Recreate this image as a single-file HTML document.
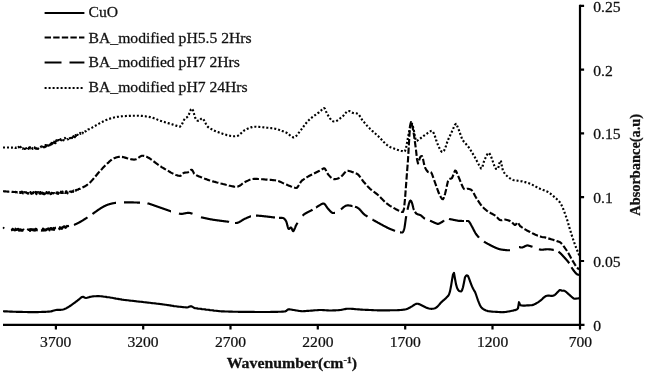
<!DOCTYPE html>
<html><head><meta charset="utf-8"><title>FTIR spectra</title>
<style>
html,body{margin:0;padding:0;background:#fff;}
svg{display:block;filter:blur(0.35px)}
text{font-family:"Liberation Serif",serif;fill:#111;stroke:#111;stroke-width:0.25px;}
.t{font-size:14.5px}
.b{font-size:14px;font-weight:bold}
.c{fill:none;stroke:#000;stroke-width:2.15;stroke-linejoin:round}
</style></head><body>
<svg width="645" height="373" viewBox="0 0 645 373">
<rect width="645" height="373" fill="#fff"/>
<path class="c" d="M3.0,311.2 L4.0,311.3 L5.0,311.3 L6.0,311.4 L7.0,311.4 L8.0,311.5 L9.0,311.5 L10.0,311.6 L11.0,311.6 L12.0,311.6 L13.0,311.7 L14.0,311.7 L15.0,311.7 L16.0,311.8 L17.0,311.8 L18.0,311.8 L19.0,311.9 L20.0,311.9 L21.0,311.9 L22.0,311.9 L23.0,312.0 L24.0,312.0 L25.0,312.0 L26.0,312.0 L27.0,312.0 L28.0,312.1 L29.0,312.1 L30.0,312.1 L31.0,312.1 L32.0,312.1 L33.0,312.1 L34.0,312.1 L35.0,312.1 L36.0,312.1 L37.0,312.1 L38.0,312.1 L39.0,312.0 L40.0,312.0 L41.0,312.0 L42.0,311.9 L43.0,311.9 L44.0,311.9 L45.0,311.8 L46.0,311.8 L47.0,311.7 L48.0,311.6 L49.0,311.6 L50.0,311.5 L51.0,311.4 L52.0,311.1 L53.0,310.8 L54.0,310.5 L55.0,310.2 L56.0,310.0 L57.0,309.9 L58.0,309.8 L59.0,309.8 L60.0,309.8 L61.0,309.8 L62.0,309.7 L63.0,309.5 L64.0,309.2 L65.0,308.8 L66.0,308.4 L67.0,307.8 L68.0,307.3 L69.0,306.7 L70.0,306.0 L71.0,305.3 L72.0,304.6 L73.0,303.9 L74.0,303.2 L75.0,302.5 L76.0,301.7 L77.0,301.0 L78.0,300.2 L79.0,299.4 L80.0,298.5 L81.0,297.7 L82.0,297.0 L83.0,296.8 L84.0,297.3 L85.0,297.8 L86.0,298.0 L87.0,297.8 L88.0,297.5 L89.0,297.2 L90.0,296.9 L91.0,296.7 L92.0,296.5 L93.0,296.4 L94.0,296.3 L95.0,296.2 L96.0,296.2 L97.0,296.1 L98.0,296.1 L99.0,296.1 L100.0,296.2 L101.0,296.3 L102.0,296.4 L103.0,296.5 L104.0,296.7 L105.0,296.8 L106.0,296.9 L107.0,297.1 L108.0,297.2 L109.0,297.3 L110.0,297.5 L111.0,297.7 L112.0,297.8 L113.0,298.0 L114.0,298.2 L115.0,298.4 L116.0,298.6 L117.0,298.7 L118.0,298.9 L119.0,299.1 L120.0,299.3 L121.0,299.4 L122.0,299.6 L123.0,299.7 L124.0,299.9 L125.0,300.0 L126.0,300.1 L127.0,300.2 L128.0,300.3 L129.0,300.5 L130.0,300.6 L131.0,300.7 L132.0,300.8 L133.0,300.9 L134.0,301.0 L135.0,301.1 L136.0,301.2 L137.0,301.4 L138.0,301.5 L139.0,301.6 L140.0,301.7 L141.0,301.8 L142.0,301.9 L143.0,302.0 L144.0,302.2 L145.0,302.3 L146.0,302.4 L147.0,302.5 L148.0,302.6 L149.0,302.7 L150.0,302.8 L151.0,303.0 L152.0,303.1 L153.0,303.2 L154.0,303.3 L155.0,303.4 L156.0,303.5 L157.0,303.7 L158.0,303.8 L159.0,303.9 L160.0,304.0 L161.0,304.1 L162.0,304.2 L163.0,304.4 L164.0,304.5 L165.0,304.7 L166.0,304.8 L167.0,305.0 L168.0,305.1 L169.0,305.3 L170.0,305.4 L171.0,305.6 L172.0,305.8 L173.0,305.9 L174.0,306.1 L175.0,306.2 L176.0,306.3 L177.0,306.5 L178.0,306.6 L179.0,306.7 L180.0,306.8 L181.0,306.9 L182.0,307.0 L183.0,307.1 L184.0,307.2 L185.0,307.3 L186.0,307.4 L187.0,307.5 L188.0,307.3 L189.0,306.8 L190.0,306.4 L191.0,306.2 L192.0,306.6 L193.0,307.2 L194.0,307.8 L195.0,308.2 L196.0,308.3 L197.0,308.4 L198.0,308.6 L199.0,308.7 L200.0,308.8 L201.0,308.9 L202.0,309.1 L203.0,309.2 L204.0,309.3 L205.0,309.4 L206.0,309.6 L207.0,309.7 L208.0,309.8 L209.0,309.9 L210.0,310.1 L211.0,310.2 L212.0,310.3 L213.0,310.4 L214.0,310.6 L215.0,310.7 L216.0,310.8 L217.0,310.9 L218.0,311.0 L219.0,311.1 L220.0,311.2 L221.0,311.3 L222.0,311.3 L223.0,311.4 L224.0,311.4 L225.0,311.5 L226.0,311.5 L227.0,311.5 L228.0,311.5 L229.0,311.6 L230.0,311.6 L231.0,311.6 L232.0,311.6 L233.0,311.7 L234.0,311.7 L235.0,311.7 L236.0,311.7 L237.0,311.7 L238.0,311.8 L239.0,311.8 L240.0,311.8 L241.0,311.8 L242.0,311.8 L243.0,311.8 L244.0,311.9 L245.0,311.9 L246.0,311.9 L247.0,311.9 L248.0,311.9 L249.0,311.9 L250.0,311.9 L251.0,311.9 L252.0,311.9 L253.0,311.9 L254.0,311.9 L255.0,312.0 L256.0,312.0 L257.0,312.0 L258.0,312.0 L259.0,312.0 L260.0,312.0 L261.0,312.0 L262.0,312.0 L263.0,312.0 L264.0,312.0 L265.0,312.0 L266.0,312.0 L267.0,312.0 L268.0,312.0 L269.0,312.0 L270.0,312.0 L271.0,311.9 L272.0,311.9 L273.0,311.9 L274.0,311.9 L275.0,311.9 L276.0,311.8 L277.0,311.8 L278.0,311.8 L279.0,311.7 L280.0,311.7 L281.0,311.7 L282.0,311.6 L283.0,311.6 L284.0,311.5 L285.0,311.5 L286.0,311.1 L287.0,310.2 L288.0,309.5 L289.0,309.2 L290.0,309.4 L291.0,309.5 L292.0,309.7 L293.0,309.9 L294.0,310.0 L295.0,310.2 L296.0,310.4 L297.0,310.5 L298.0,310.7 L299.0,310.9 L300.0,311.0 L301.0,311.1 L302.0,311.2 L303.0,311.2 L304.0,311.1 L305.0,311.1 L306.0,311.0 L307.0,310.9 L308.0,310.8 L309.0,310.8 L310.0,310.7 L311.0,310.6 L312.0,310.6 L313.0,310.5 L314.0,310.4 L315.0,310.3 L316.0,310.2 L317.0,310.2 L318.0,310.1 L319.0,310.0 L320.0,310.0 L321.0,310.0 L322.0,310.0 L323.0,310.1 L324.0,310.1 L325.0,310.2 L326.0,310.3 L327.0,310.4 L328.0,310.4 L329.0,310.5 L330.0,310.5 L331.0,310.5 L332.0,310.5 L333.0,310.4 L334.0,310.4 L335.0,310.3 L336.0,310.3 L337.0,310.2 L338.0,310.2 L339.0,310.1 L340.0,310.0 L341.0,309.9 L342.0,309.7 L343.0,309.5 L344.0,309.3 L345.0,309.1 L346.0,308.9 L347.0,308.8 L348.0,308.7 L349.0,308.7 L350.0,308.7 L351.0,308.8 L352.0,308.9 L353.0,308.9 L354.0,309.0 L355.0,309.1 L356.0,309.2 L357.0,309.3 L358.0,309.4 L359.0,309.4 L360.0,309.5 L361.0,309.6 L362.0,309.6 L363.0,309.7 L364.0,309.7 L365.0,309.8 L366.0,309.8 L367.0,309.9 L368.0,309.9 L369.0,310.0 L370.0,310.0 L371.0,310.0 L372.0,310.1 L373.0,310.1 L374.0,310.2 L375.0,310.2 L376.0,310.2 L377.0,310.3 L378.0,310.3 L379.0,310.3 L380.0,310.3 L381.0,310.3 L382.0,310.3 L383.0,310.3 L384.0,310.3 L385.0,310.3 L386.0,310.3 L387.0,310.3 L388.0,310.3 L389.0,310.3 L390.0,310.3 L391.0,310.2 L392.0,310.2 L393.0,310.2 L394.0,310.2 L395.0,310.2 L396.0,310.2 L397.0,310.2 L398.0,310.1 L399.0,310.1 L400.0,310.0 L401.0,310.0 L402.0,309.9 L403.0,309.8 L404.0,309.6 L405.0,309.5 L406.0,309.3 L407.0,308.9 L408.0,308.5 L409.0,308.0 L410.0,307.5 L411.0,306.9 L412.0,306.3 L413.0,305.6 L414.0,305.0 L415.0,304.4 L416.0,303.9 L417.0,303.7 L418.0,303.8 L419.0,304.1 L420.0,304.5 L421.0,305.0 L422.0,305.5 L423.0,306.0 L424.0,306.5 L425.0,307.0 L426.0,307.5 L427.0,307.9 L428.0,308.2 L429.0,308.5 L430.0,308.7 L431.0,308.8 L432.0,308.8 L433.0,308.7 L434.0,308.5 L435.0,308.2 L436.0,307.7 L437.0,307.0 L438.0,306.0 L439.0,304.9 L440.0,303.7 L441.0,302.5 L442.0,301.6 L443.0,300.7 L444.0,299.9 L445.0,299.0 L446.0,298.1 L447.0,297.1 L448.0,296.1 L449.0,294.5 L450.0,291.4 L451.0,286.3 L452.0,280.1 L453.0,274.5 L454.0,272.9 L455.0,278.8 L456.0,284.1 L457.0,287.8 L458.0,289.8 L459.0,290.9 L460.0,291.3 L461.0,291.4 L462.0,290.4 L463.0,287.2 L464.0,282.5 L465.0,277.3 L466.0,275.7 L467.0,275.3 L468.0,276.0 L469.0,278.4 L470.0,281.1 L471.0,283.8 L472.0,286.4 L473.0,288.5 L474.0,290.3 L475.0,291.8 L476.0,294.5 L477.0,297.5 L478.0,300.3 L479.0,302.9 L480.0,305.2 L481.0,307.0 L482.0,308.1 L483.0,308.9 L484.0,309.5 L485.0,310.0 L486.0,310.5 L487.0,310.8 L488.0,311.1 L489.0,311.3 L490.0,311.4 L491.0,311.5 L492.0,311.6 L493.0,311.7 L494.0,311.7 L495.0,311.8 L496.0,311.9 L497.0,311.9 L498.0,312.0 L499.0,312.0 L500.0,312.1 L501.0,312.1 L502.0,312.2 L503.0,312.1 L504.0,312.1 L505.0,312.0 L506.0,311.9 L507.0,311.7 L508.0,311.5 L509.0,311.4 L510.0,311.2 L511.0,311.0 L512.0,310.8 L513.0,310.6 L514.0,310.3 L515.0,310.1 L516.0,309.9 L517.0,309.4 L518.0,308.2 L519.0,302.2 L520.0,304.7 L521.0,305.4 L522.0,305.5 L523.0,305.6 L524.0,305.6 L525.0,305.6 L526.0,305.5 L527.0,305.4 L528.0,305.4 L529.0,305.4 L530.0,305.3 L531.0,305.2 L532.0,305.1 L533.0,304.9 L534.0,304.5 L535.0,304.1 L536.0,303.5 L537.0,302.9 L538.0,302.3 L539.0,301.6 L540.0,300.9 L541.0,300.1 L542.0,299.2 L543.0,298.2 L544.0,297.4 L545.0,296.6 L546.0,296.0 L547.0,295.7 L548.0,295.6 L549.0,295.6 L550.0,295.8 L551.0,295.9 L552.0,295.9 L553.0,295.7 L554.0,295.4 L555.0,294.8 L556.0,293.9 L557.0,292.8 L558.0,291.7 L559.0,290.7 L560.0,290.0 L561.0,290.2 L562.0,290.7 L563.0,290.7 L564.0,290.6 L565.0,291.1 L566.0,291.8 L567.0,292.7 L568.0,293.6 L569.0,294.5 L570.0,295.4 L571.0,296.3 L572.0,297.2 L573.0,298.0 L574.0,298.6 L575.0,298.7 L576.0,298.6 L577.0,298.5 L578.0,298.4 L579.0,298.2 L580.0,298.0"/>
<path class="c" stroke-dasharray="6.4 2.2" d="M3.0,191.2 L3.5,191.2 L4.0,191.3 L4.5,191.3 L5.0,191.4 L5.5,191.4 L6.0,191.5 L6.5,191.5 L7.0,191.5 L7.5,191.6 L8.0,191.6 L8.5,191.6 L9.0,191.7 L9.5,191.7 L10.0,191.7 L10.5,191.8 L11.0,191.8 L11.5,191.8 L12.0,191.9 L12.5,191.9 L13.0,191.9 L13.5,192.0 L14.0,192.0 L14.5,192.0 L15.0,192.0 L15.5,191.9 L16.0,192.3 L16.5,192.1 L17.0,192.3 L17.5,192.5 L18.0,192.4 L18.5,192.7 L19.0,192.1 L19.5,192.6 L20.0,192.2 L20.5,193.0 L21.0,192.9 L21.5,191.7 L22.0,191.8 L22.5,191.9 L23.0,193.4 L23.5,192.3 L24.0,192.8 L24.5,192.1 L25.0,192.5 L25.5,192.3 L26.0,192.2 L26.5,192.8 L27.0,192.8 L27.5,193.5 L28.0,193.0 L28.5,193.6 L29.0,193.4 L29.5,193.8 L30.0,193.1 L30.5,192.0 L31.0,193.5 L31.5,193.8 L32.0,193.6 L32.5,192.9 L33.0,193.3 L33.5,192.2 L34.0,193.5 L34.5,193.0 L35.0,192.4 L35.5,191.9 L36.0,193.7 L36.5,194.0 L37.0,192.0 L37.5,193.6 L38.0,192.7 L38.5,192.2 L39.0,192.5 L39.5,193.6 L40.0,193.8 L40.5,192.0 L41.0,193.3 L41.5,192.0 L42.0,193.5 L42.5,192.7 L43.0,193.9 L43.5,194.1 L44.0,193.1 L44.5,194.2 L45.0,192.7 L45.5,192.2 L46.0,193.3 L46.5,192.1 L47.0,192.4 L47.5,192.9 L48.0,193.4 L48.5,192.4 L49.0,192.1 L49.5,193.9 L50.0,192.7 L50.5,194.1 L51.0,194.0 L51.5,192.8 L52.0,193.0 L52.5,193.1 L53.0,193.4 L53.5,193.2 L54.0,193.1 L54.5,193.3 L55.0,194.0 L55.5,193.0 L56.0,192.8 L56.5,193.4 L57.0,192.3 L57.5,192.5 L58.0,193.9 L58.5,192.9 L59.0,192.9 L59.5,191.7 L60.0,192.6 L60.5,192.9 L61.0,191.7 L61.5,192.9 L62.0,192.9 L62.5,191.6 L63.0,192.9 L63.5,192.5 L64.0,192.9 L64.5,192.2 L65.0,192.9 L65.5,192.9 L66.0,191.3 L66.5,191.4 L67.0,192.7 L67.5,193.3 L68.0,191.6 L68.5,192.0 L69.0,192.3 L69.5,191.7 L70.0,191.7 L70.5,191.5 L71.0,191.6 L71.5,192.0 L72.0,191.3 L72.5,191.3 L73.0,191.9 L73.5,190.5 L74.0,191.2 L74.5,191.3 L75.0,190.5 L75.5,190.3 L76.0,190.7 L76.5,189.9 L77.0,189.7 L77.5,189.7 L78.0,189.7 L78.5,189.1 L79.0,189.0 L79.5,188.8 L80.0,188.8 L80.5,188.5 L81.0,188.3 L81.5,188.0 L82.0,187.8 L83.0,187.3 L84.0,186.8 L85.0,186.3 L86.0,185.7 L87.0,185.0 L88.0,184.2 L89.0,183.4 L90.0,182.5 L91.0,181.5 L92.0,180.4 L93.0,179.3 L94.0,178.1 L95.0,176.9 L96.0,175.7 L97.0,174.5 L98.0,173.3 L99.0,172.1 L100.0,171.0 L101.0,169.9 L102.0,168.9 L103.0,167.8 L104.0,166.8 L105.0,165.8 L106.0,164.8 L107.0,163.8 L108.0,162.9 L109.0,161.9 L110.0,161.0 L111.0,160.2 L112.0,159.4 L113.0,158.8 L114.0,158.3 L115.0,157.9 L116.0,157.5 L117.0,157.2 L118.0,157.0 L119.0,156.8 L120.0,156.8 L121.0,156.8 L122.0,156.9 L123.0,157.1 L124.0,157.3 L125.0,157.6 L126.0,157.9 L127.0,158.2 L128.0,158.5 L129.0,158.8 L130.0,159.0 L131.0,159.3 L132.0,159.4 L133.0,159.5 L134.0,159.6 L135.0,159.5 L136.0,159.2 L137.0,158.7 L138.0,158.1 L139.0,157.4 L140.0,156.7 L141.0,156.1 L142.0,155.7 L143.0,155.7 L144.0,155.9 L145.0,156.1 L146.0,156.5 L147.0,156.9 L148.0,157.5 L149.0,158.0 L150.0,158.7 L151.0,159.4 L152.0,160.1 L153.0,160.9 L154.0,161.6 L155.0,162.4 L156.0,163.2 L157.0,163.9 L158.0,164.6 L159.0,165.3 L160.0,166.0 L161.0,166.6 L162.0,167.3 L163.0,167.9 L164.0,168.5 L165.0,169.1 L166.0,169.7 L167.0,170.3 L168.0,170.8 L169.0,171.4 L170.0,172.0 L171.0,172.6 L172.0,173.1 L173.0,173.6 L174.0,174.1 L175.0,174.6 L176.0,175.0 L177.0,175.3 L178.0,175.6 L179.0,175.8 L180.0,176.0 L181.0,175.6 L182.0,174.6 L183.0,173.5 L184.0,172.8 L185.0,172.6 L186.0,172.5 L187.0,172.5 L188.0,172.3 L189.0,171.7 L190.0,170.7 L191.0,169.9 L192.0,169.8 L193.0,171.4 L194.0,173.5 L195.0,174.4 L196.0,175.0 L197.0,175.6 L198.0,176.0 L199.0,176.4 L200.0,176.8 L201.0,177.2 L202.0,177.6 L203.0,178.0 L204.0,178.4 L205.0,178.8 L206.0,179.1 L207.0,179.5 L208.0,179.9 L209.0,180.2 L210.0,180.5 L211.0,180.8 L212.0,181.1 L213.0,181.4 L214.0,181.7 L215.0,181.9 L216.0,182.2 L217.0,182.5 L218.0,182.7 L219.0,183.0 L220.0,183.2 L221.0,183.5 L222.0,183.7 L223.0,184.0 L224.0,184.2 L225.0,184.5 L226.0,184.8 L227.0,185.0 L228.0,185.3 L229.0,185.6 L230.0,185.8 L231.0,186.0 L232.0,186.2 L233.0,186.4 L234.0,186.6 L235.0,186.7 L236.0,186.7 L237.0,186.7 L238.0,186.5 L239.0,186.1 L240.0,185.5 L241.0,184.8 L242.0,184.0 L243.0,183.2 L244.0,182.5 L245.0,182.0 L246.0,181.5 L247.0,181.1 L248.0,180.6 L249.0,180.1 L250.0,179.7 L251.0,179.4 L252.0,179.1 L253.0,179.0 L254.0,178.9 L255.0,178.9 L256.0,178.9 L257.0,178.9 L258.0,179.0 L259.0,179.0 L260.0,179.1 L261.0,179.2 L262.0,179.2 L263.0,179.3 L264.0,179.4 L265.0,179.5 L266.0,179.6 L267.0,179.6 L268.0,179.7 L269.0,179.8 L270.0,179.8 L271.0,179.9 L272.0,180.0 L273.0,180.1 L274.0,180.2 L275.0,180.3 L276.0,180.5 L277.0,180.7 L278.0,181.0 L279.0,181.3 L280.0,181.7 L281.0,182.1 L282.0,182.6 L283.0,183.1 L284.0,183.6 L285.0,184.0 L286.0,184.4 L287.0,184.8 L288.0,185.3 L289.0,185.7 L290.0,186.1 L291.0,186.5 L292.0,186.8 L293.0,187.2 L294.0,187.5 L295.0,187.8 L296.0,188.0 L297.0,187.7 L298.0,186.5 L299.0,184.9 L300.0,183.1 L301.0,181.6 L302.0,180.5 L303.0,179.8 L304.0,179.2 L305.0,178.5 L306.0,177.8 L307.0,177.2 L308.0,176.6 L309.0,176.0 L310.0,175.5 L311.0,175.0 L312.0,174.5 L313.0,174.0 L314.0,173.5 L315.0,173.0 L316.0,172.5 L317.0,172.0 L318.0,171.5 L319.0,171.0 L320.0,170.5 L321.0,169.9 L322.0,169.3 L323.0,168.8 L324.0,168.3 L325.0,168.8 L326.0,170.5 L327.0,172.7 L328.0,174.3 L329.0,175.4 L330.0,176.5 L331.0,177.5 L332.0,178.3 L333.0,178.8 L334.0,179.1 L335.0,179.1 L336.0,179.0 L337.0,178.8 L338.0,178.4 L339.0,178.0 L340.0,177.5 L341.0,176.8 L342.0,175.8 L343.0,174.7 L344.0,173.5 L345.0,172.4 L346.0,171.5 L347.0,170.9 L348.0,170.8 L349.0,171.0 L350.0,171.2 L351.0,171.5 L352.0,171.9 L353.0,172.3 L354.0,172.7 L355.0,173.1 L356.0,173.4 L357.0,173.8 L358.0,174.5 L359.0,175.5 L360.0,176.8 L361.0,178.3 L362.0,179.7 L363.0,181.0 L364.0,182.2 L365.0,183.3 L366.0,184.5 L367.0,185.6 L368.0,186.7 L369.0,187.7 L370.0,188.7 L371.0,189.6 L372.0,190.4 L373.0,191.2 L374.0,191.9 L375.0,192.6 L376.0,193.4 L377.0,194.2 L378.0,195.0 L379.0,195.9 L380.0,196.9 L381.0,197.9 L382.0,198.9 L383.0,200.0 L384.0,201.0 L385.0,202.0 L386.0,202.9 L387.0,203.7 L388.0,204.4 L389.0,205.1 L390.0,205.8 L391.0,206.4 L392.0,207.0 L393.0,207.5 L394.0,208.1 L395.0,208.7 L396.0,209.3 L397.0,209.8 L398.0,210.3 L399.0,210.7 L400.0,211.1 L401.0,211.6 L402.0,212.0 L403.0,211.9 L404.0,208.7 L405.0,199.0 L406.0,185.8 L407.0,172.5 L408.0,160.0 L409.0,142.2 L410.0,126.0 L411.0,122.0 L412.0,125.0 L413.0,129.3 L414.0,135.0 L415.0,142.4 L416.0,150.0 L417.0,159.2 L418.0,163.4 L419.0,160.7 L420.0,157.5 L421.0,156.3 L422.0,156.0 L423.0,158.9 L424.0,163.9 L425.0,167.5 L426.0,169.3 L427.0,170.8 L428.0,172.0 L429.0,172.3 L430.0,172.1 L431.0,172.3 L432.0,174.0 L433.0,176.8 L434.0,179.7 L435.0,182.5 L436.0,185.3 L437.0,188.2 L438.0,191.0 L439.0,193.5 L440.0,195.6 L441.0,197.5 L442.0,198.9 L443.0,199.1 L444.0,197.5 L445.0,194.1 L446.0,190.0 L447.0,185.2 L448.0,181.0 L449.0,179.1 L450.0,178.7 L451.0,178.6 L452.0,178.0 L453.0,175.8 L454.0,172.8 L455.0,170.6 L456.0,171.0 L457.0,173.3 L458.0,175.6 L459.0,178.0 L460.0,180.4 L461.0,182.9 L462.0,185.3 L463.0,187.5 L464.0,188.9 L465.0,189.2 L466.0,189.0 L467.0,188.7 L468.0,188.7 L469.0,189.0 L470.0,189.3 L471.0,189.7 L472.0,190.5 L473.0,191.9 L474.0,193.7 L475.0,195.7 L476.0,197.5 L477.0,199.1 L478.0,200.7 L479.0,202.2 L480.0,203.7 L481.0,205.0 L482.0,206.2 L483.0,207.3 L484.0,208.3 L485.0,209.2 L486.0,210.0 L487.0,210.8 L488.0,211.5 L489.0,212.2 L490.0,212.7 L491.0,213.3 L492.0,213.8 L493.0,214.3 L494.0,214.9 L495.0,215.5 L496.0,216.3 L497.0,217.3 L498.0,218.4 L499.0,219.3 L500.0,220.0 L501.0,220.2 L502.0,220.1 L503.0,219.8 L504.0,219.5 L505.0,219.5 L506.0,219.7 L507.0,220.0 L508.0,220.3 L509.0,220.6 L510.0,221.0 L511.0,221.6 L512.0,222.4 L513.0,223.4 L514.0,224.3 L515.0,225.0 L516.0,224.4 L517.0,223.0 L518.0,222.5 L519.0,224.3 L520.0,226.0 L521.0,226.7 L522.0,227.4 L523.0,228.0 L524.0,228.7 L525.0,229.3 L526.0,229.9 L527.0,230.5 L528.0,231.0 L529.0,231.5 L530.0,232.0 L531.0,232.6 L532.0,233.1 L533.0,233.6 L534.0,234.0 L535.0,234.5 L536.0,234.9 L537.0,235.4 L538.0,235.7 L539.0,236.1 L540.0,236.4 L541.0,236.7 L542.0,237.0 L543.0,237.2 L544.0,237.2 L545.0,237.4 L546.0,237.7 L547.0,238.0 L548.0,238.3 L549.0,238.6 L550.0,238.9 L551.0,239.2 L552.0,239.5 L553.0,239.8 L554.0,240.1 L555.0,240.4 L556.0,240.7 L557.0,241.1 L558.0,241.4 L559.0,241.8 L560.0,242.2 L561.0,243.0 L562.0,244.1 L563.0,245.3 L564.0,246.7 L565.0,248.1 L566.0,249.5 L567.0,251.0 L568.0,252.6 L569.0,254.3 L570.0,256.1 L571.0,257.9 L572.0,259.7 L573.0,261.4 L574.0,263.0 L575.0,264.6 L576.0,266.1 L577.0,267.4 L578.0,268.6 L579.0,269.6"/>
<path class="c" d="M3.00,228.1 L3.50,227.9 L4.00,228.6 M11.00,230.1 L11.50,230.0 L12.00,230.1 L12.50,228.8 L13.00,229.0 L13.50,229.8 L14.00,230.0 L14.50,230.3 L15.00,230.4 L15.50,228.7 L16.00,229.8 L16.50,230.0 L17.00,229.7 L17.50,229.0 L18.00,229.6 L18.50,228.8 L19.00,230.7 L19.50,230.5 L20.00,229.9 L20.50,229.3 L21.00,230.7 L21.50,229.9 L22.00,230.6 L22.50,230.6 L23.00,229.8 L23.50,229.6 L24.00,230.1 M27.50,230.1 L28.00,229.4 L28.50,229.9 L29.00,229.8 L29.50,229.5 L30.00,231.0 L30.50,229.2 L31.00,229.7 L31.50,229.2 L32.00,230.1 L32.50,229.3 L33.00,229.5 L33.50,230.4 L34.00,229.4 L34.50,229.9 L35.00,230.7 L35.50,228.9 L36.00,228.8 L36.50,229.2 L37.00,230.3 L37.50,230.0 M41.00,230.5 L41.50,230.6 L42.00,230.1 L42.50,230.6 L43.00,228.5 L43.50,229.1 L44.00,230.6 L44.50,230.1 L45.00,229.3 L45.50,230.5 L46.00,229.7 L46.50,230.1 L47.00,228.9 L47.50,228.7 L48.00,229.2 L48.50,228.5 L49.00,229.0 L49.50,230.3 L50.00,228.8 L50.50,228.1 L51.00,228.1 L51.50,228.3 L52.00,229.7 L52.50,228.7 L53.00,228.5 L53.50,228.0 L54.00,229.9 L54.50,228.6 L55.00,228.1 L55.50,227.7 L56.00,227.6 M59.00,227.6 L59.50,229.2 L60.00,227.2 L60.50,228.0 L61.00,228.5 L61.50,227.6 L62.00,228.8 L62.50,227.5 L63.00,226.9 L63.50,227.2 L64.00,226.3 L64.50,227.1 L65.00,226.6 L65.50,227.8 L66.00,227.5 L66.50,226.8 L67.00,225.9 L67.50,226.2 L68.00,226.1 L68.50,226.0 L69.00,225.9 M74.00,224.9 L74.50,224.7 L75.00,224.4 L75.50,224.2 L76.00,224.0 L76.25,223.9 L76.50,223.8 L76.75,223.7 L77.00,223.6 L77.25,223.4 L77.50,223.3 L77.75,223.2 L78.00,223.1 L78.25,223.0 L78.50,222.8 L78.75,222.7 L79.00,222.6 L79.25,222.4 L79.50,222.3 L79.75,222.1 L80.00,222.0 L80.25,221.9 L80.50,221.7 L80.75,221.6 L81.00,221.4 L81.25,221.3 L81.50,221.1 L81.75,221.0 L82.00,220.8 L82.25,220.7 L82.50,220.5 L82.75,220.4 L83.00,220.2 L83.25,220.0 L83.50,219.9 L83.75,219.7 L84.00,219.6 L84.25,219.4 L84.50,219.3 L84.75,219.1 L85.00,219.0 L85.25,218.8 L85.50,218.6 L85.75,218.5 L86.00,218.3 L86.25,218.2 L86.50,218.0 L86.75,217.8 L87.00,217.7 L87.25,217.5 L87.50,217.3 M92.50,214.0 L92.75,213.8 L93.00,213.6 L93.25,213.4 L93.50,213.3 L93.75,213.1 L94.00,212.9 L94.25,212.7 L94.50,212.6 L94.75,212.4 L95.00,212.2 L95.25,212.0 L95.50,211.8 L95.75,211.7 L96.00,211.5 L96.25,211.3 L96.50,211.1 L96.75,210.9 L97.00,210.8 L97.25,210.6 L97.50,210.4 L97.75,210.2 L98.00,210.1 L98.25,209.9 L98.50,209.7 L98.75,209.5 L99.00,209.4 L99.25,209.2 L99.50,209.0 L99.75,208.9 L100.00,208.7 L100.25,208.5 L100.50,208.4 L100.75,208.2 L101.00,208.1 L101.25,207.9 L101.50,207.8 L101.75,207.6 L102.00,207.5 L102.25,207.3 L102.50,207.2 L102.75,207.0 L103.00,206.9 L103.25,206.8 L103.50,206.6 L103.75,206.5 L104.00,206.4 L104.25,206.2 L104.50,206.1 L104.75,206.0 L105.00,205.9 L105.25,205.8 L105.50,205.6 L105.75,205.5 L106.00,205.4 L106.25,205.3 L106.50,205.2 L106.75,205.1 L107.00,205.0 L107.25,204.9 L107.50,204.8 L107.75,204.7 L108.00,204.6 L108.25,204.5 L108.50,204.5 L108.75,204.4 L109.00,204.3 L109.25,204.2 L109.50,204.1 L109.75,204.1 L110.00,204.0 L110.25,203.9 L110.50,203.9 L110.75,203.8 L111.00,203.7 L111.25,203.7 L111.50,203.6 L111.75,203.6 L112.00,203.5 L112.25,203.4 L112.50,203.4 L112.75,203.3 L113.00,203.3 L113.25,203.2 L113.50,203.2 L113.75,203.2 L114.00,203.1 L114.25,203.1 L114.50,203.0 L114.75,203.0 L115.00,202.9 L115.25,202.9 L115.50,202.9 L115.75,202.8 L116.00,202.8 M124.00,202.4 L124.25,202.4 L124.50,202.4 L124.75,202.4 L125.00,202.4 L125.25,202.4 L125.50,202.4 L125.75,202.4 L126.00,202.4 L126.25,202.4 L126.50,202.4 L126.75,202.4 L127.00,202.4 L127.25,202.4 L127.50,202.4 L127.75,202.4 L128.00,202.4 L128.25,202.4 L128.50,202.4 L128.75,202.4 L129.00,202.4 L129.25,202.4 L129.50,202.4 L129.75,202.4 L130.00,202.4 L130.25,202.4 L130.50,202.4 L130.75,202.4 L131.00,202.4 L131.25,202.4 L131.50,202.4 L131.75,202.4 L132.00,202.4 L132.25,202.4 L132.50,202.4 L132.75,202.4 L133.00,202.4 L133.25,202.4 L133.50,202.4 L133.75,202.5 L134.00,202.5 L134.25,202.5 L134.50,202.5 L134.75,202.5 L135.00,202.5 L135.25,202.5 L135.50,202.5 L135.75,202.5 L136.00,202.5 L136.25,202.5 L136.50,202.5 L136.75,202.5 L137.00,202.5 L137.25,202.6 L137.50,202.6 L137.75,202.6 L138.00,202.6 L138.25,202.6 L138.50,202.6 L138.75,202.6 L139.00,202.6 L139.25,202.6 L139.50,202.6 L139.75,202.6 L140.00,202.6 M147.50,203.3 L147.75,203.4 L148.00,203.4 L148.25,203.5 L148.50,203.5 L148.75,203.6 L149.00,203.7 L149.25,203.8 L149.50,203.8 L149.75,203.9 L150.00,204.0 L150.25,204.1 L150.50,204.2 L150.75,204.3 L151.00,204.3 L151.25,204.4 L151.50,204.5 L151.75,204.6 L152.00,204.7 L152.25,204.8 L152.50,204.9 L152.75,205.0 L153.00,205.0 L153.25,205.1 L153.50,205.2 L153.75,205.3 L154.00,205.4 L154.25,205.5 L154.50,205.6 L154.75,205.7 L155.00,205.8 L155.25,205.8 L155.50,205.9 L155.75,206.0 L156.00,206.1 L156.25,206.2 L156.50,206.3 L156.75,206.4 L157.00,206.5 L157.25,206.5 L157.50,206.6 L157.75,206.7 L158.00,206.8 L158.25,206.9 L158.50,207.0 L158.75,207.1 L159.00,207.2 L159.25,207.2 L159.50,207.3 L159.75,207.4 L160.00,207.5 L160.25,207.6 L160.50,207.7 L160.75,207.8 L161.00,207.8 L161.25,207.9 L161.50,208.0 L161.75,208.1 L162.00,208.2 L162.25,208.3 L162.50,208.4 L162.75,208.5 L163.00,208.6 L163.25,208.6 L163.50,208.7 L163.75,208.8 L164.00,208.9 L164.25,209.0 L164.50,209.1 L164.75,209.2 L165.00,209.2 L165.25,209.3 L165.50,209.4 L165.75,209.5 L166.00,209.6 L166.25,209.7 L166.50,209.8 L166.75,209.9 L167.00,209.9 L167.25,210.0 L167.50,210.1 L167.75,210.2 L168.00,210.3 L168.25,210.4 L168.50,210.5 L168.75,210.6 L169.00,210.7 L169.25,210.7 L169.50,210.8 L169.75,210.9 L170.00,211.0 L170.25,211.1 L170.50,211.2 L170.75,211.3 L171.00,211.3 M179.00,213.5 L179.25,213.6 L179.50,213.6 L179.75,213.7 L180.00,213.7 L180.25,213.7 L180.50,213.8 L180.75,213.8 L181.00,213.8 L181.25,213.8 L181.50,213.8 L181.75,213.8 L182.00,213.8 L182.25,213.8 L182.50,213.8 L182.75,213.7 L183.00,213.7 L183.25,213.7 L183.50,213.6 L183.75,213.6 L184.00,213.5 L184.25,213.5 L184.50,213.4 L184.75,213.4 L185.00,213.3 L185.25,213.3 L185.50,213.2 L185.75,213.2 L186.00,213.1 L186.25,213.1 L186.50,213.0 L186.75,213.0 L187.00,213.0 L187.25,212.9 L187.50,212.9 L187.75,212.9 L188.00,212.9 L188.25,212.8 L188.50,212.8 L188.75,212.8 L189.00,212.9 L189.25,212.9 L189.50,212.9 L189.75,213.0 L190.00,213.0 L190.25,213.1 L190.50,213.1 L190.75,213.2 L191.00,213.3 L191.25,213.4 L191.50,213.4 L191.75,213.5 L192.00,213.6 L192.25,213.7 L192.50,213.8 M201.00,217.2 L201.25,217.3 L201.50,217.3 L201.75,217.4 L202.00,217.5 L202.25,217.5 L202.50,217.6 L202.75,217.6 L203.00,217.7 L203.25,217.7 L203.50,217.8 L203.75,217.8 L204.00,217.9 L204.25,218.0 L204.50,218.0 L204.75,218.1 L205.00,218.1 L205.25,218.2 L205.50,218.2 L205.75,218.3 L206.00,218.3 L206.25,218.4 L206.50,218.4 L206.75,218.5 L207.00,218.6 L207.25,218.6 L207.50,218.7 L207.75,218.7 L208.00,218.8 L208.25,218.8 L208.50,218.9 L208.75,218.9 L209.00,219.0 L209.25,219.0 L209.50,219.1 L209.75,219.1 L210.00,219.2 L210.25,219.2 L210.50,219.3 L210.75,219.3 L211.00,219.3 L211.25,219.4 L211.50,219.4 L211.75,219.5 L212.00,219.5 L212.25,219.6 L212.50,219.6 L212.75,219.7 L213.00,219.7 L213.25,219.7 L213.50,219.8 L213.75,219.8 L214.00,219.9 L214.25,219.9 L214.50,219.9 L214.75,220.0 L215.00,220.0 L215.25,220.0 L215.50,220.1 L215.75,220.1 L216.00,220.1 L216.25,220.2 L216.50,220.2 L216.75,220.2 L217.00,220.3 L217.25,220.3 L217.50,220.3 L217.75,220.4 L218.00,220.4 L218.25,220.4 L218.50,220.5 L218.75,220.5 L219.00,220.5 L219.25,220.6 L219.50,220.6 L219.75,220.6 L220.00,220.7 L220.25,220.7 L220.50,220.7 L220.75,220.8 L221.00,220.8 L221.25,220.8 L221.50,220.9 L221.75,220.9 L222.00,220.9 L222.25,221.0 L222.50,221.0 L222.75,221.0 L223.00,221.1 L223.25,221.1 L223.50,221.1 L223.75,221.1 L224.00,221.2 L224.25,221.2 L224.50,221.2 L224.75,221.3 L225.00,221.3 L225.25,221.3 L225.50,221.4 L225.75,221.4 L226.00,221.4 L226.25,221.5 L226.50,221.5 L226.75,221.5 L227.00,221.6 L227.25,221.6 L227.50,221.6 L227.75,221.7 L228.00,221.7 L228.25,221.7 L228.50,221.8 L228.75,221.8 L229.00,221.9 M235.00,223.0 L235.25,223.0 L235.50,223.0 L235.75,223.0 L236.00,223.0 L236.25,223.0 L236.50,223.0 L236.75,222.9 L237.00,222.9 L237.25,222.8 L237.50,222.8 L237.75,222.7 L238.00,222.6 L238.25,222.5 L238.50,222.4 L238.75,222.3 L239.00,222.2 L239.25,222.0 L239.50,221.9 L239.75,221.8 L240.00,221.6 L240.25,221.5 L240.50,221.3 L240.75,221.2 L241.00,221.0 L241.25,220.9 L241.50,220.7 L241.75,220.5 L242.00,220.4 L242.25,220.2 L242.50,220.1 L242.75,219.9 L243.00,219.8 L243.25,219.6 L243.50,219.5 L243.75,219.3 L244.00,219.2 L244.25,219.0 L244.50,218.9 L244.75,218.8 L245.00,218.7 L245.25,218.6 L245.50,218.5 L245.75,218.4 L246.00,218.3 L246.25,218.2 L246.50,218.0 L246.75,217.9 L247.00,217.8 L247.25,217.7 L247.50,217.6 L247.75,217.5 L248.00,217.4 L248.25,217.3 L248.50,217.2 L248.75,217.1 L249.00,217.0 L249.25,216.9 L249.50,216.8 L249.75,216.7 L250.00,216.6 L250.25,216.5 L250.50,216.4 L250.75,216.3 L251.00,216.3 M256.00,215.6 L256.25,215.6 L256.50,215.6 L256.75,215.6 L257.00,215.6 L257.25,215.6 L257.50,215.6 L257.75,215.6 L258.00,215.6 L258.25,215.7 L258.50,215.7 L258.75,215.7 L259.00,215.7 L259.25,215.7 L259.50,215.8 L259.75,215.8 L260.00,215.8 L260.25,215.8 L260.50,215.8 L260.75,215.9 L261.00,215.9 L261.25,215.9 L261.50,215.9 L261.75,216.0 L262.00,216.0 L262.25,216.0 L262.50,216.1 L262.75,216.1 L263.00,216.1 L263.25,216.1 L263.50,216.2 L263.75,216.2 L264.00,216.2 L264.25,216.2 L264.50,216.3 L264.75,216.3 L265.00,216.3 L265.25,216.4 L265.50,216.4 L265.75,216.4 L266.00,216.4 L266.25,216.5 L266.50,216.5 L266.75,216.5 L267.00,216.6 L267.25,216.6 L267.50,216.6 L267.75,216.6 L268.00,216.7 L268.25,216.7 L268.50,216.7 L268.75,216.8 L269.00,216.8 L269.25,216.8 L269.50,216.9 L269.75,216.9 L270.00,216.9 L270.25,216.9 L270.50,217.0 L270.75,217.0 L271.00,217.0 L271.25,217.1 L271.50,217.1 L271.75,217.1 L272.00,217.2 L272.25,217.2 L272.50,217.2 L272.75,217.2 L273.00,217.3 L273.25,217.3 L273.50,217.3 L273.75,217.4 L274.00,217.4 L274.25,217.4 L274.50,217.4 L274.75,217.5 L275.00,217.5 M279.00,217.8 L279.25,217.8 L279.50,217.8 L279.75,217.8 L280.00,217.8 L280.25,217.8 L280.50,217.8 L280.75,217.9 L281.00,217.9 L281.25,217.9 L281.50,217.9 L281.75,217.9 L282.00,217.9 L282.25,217.9 L282.50,218.0 L282.75,218.0 L283.00,218.0 L283.25,218.0 L283.50,218.2 L283.75,218.3 L284.00,218.5 L284.25,218.7 L284.50,219.0 L284.75,219.3 L285.00,219.6 L285.25,219.9 L285.50,220.3 L285.75,220.6 L286.00,221.0 L286.25,221.5 L286.50,222.2 L286.75,223.0 L287.00,223.9 L287.25,224.9 L287.50,225.9 L287.75,226.8 L288.00,227.6 L288.25,228.3 L288.50,228.7 L288.75,228.9 L289.00,228.9 L289.25,228.8 L289.50,228.6 L289.75,228.3 L290.00,228.0 L290.25,227.8 L290.50,227.6 L290.75,227.5 L291.00,227.5 L291.25,227.7 L291.50,228.1 L291.75,228.6 L292.00,229.2 L292.25,229.8 L292.50,230.4 L292.75,230.8 L293.00,231.1 L293.25,231.2 L293.50,231.0 L293.75,230.6 L294.00,230.2 L294.25,229.6 L294.50,229.1 L294.75,228.5 L295.00,227.9 L295.25,227.3 L295.50,226.6 L295.75,226.1 L296.00,225.5 L296.25,225.0 L296.50,224.5 L296.75,224.1 L297.00,223.6 L297.25,223.2 L297.50,222.7 M302.50,215.7 L302.75,215.5 L303.00,215.3 L303.25,215.0 L303.50,214.8 L303.75,214.6 L304.00,214.4 L304.25,214.2 L304.50,214.0 L304.75,213.9 L305.00,213.7 L305.25,213.6 L305.50,213.4 L305.75,213.3 L306.00,213.1 L306.25,213.0 L306.50,212.9 L306.75,212.7 L307.00,212.6 L307.25,212.5 L307.50,212.4 L307.75,212.2 L308.00,212.1 L308.25,212.0 L308.50,211.8 L308.75,211.7 L309.00,211.6 L309.25,211.5 L309.50,211.3 L309.75,211.2 L310.00,211.1 L310.25,211.0 L310.50,210.8 L310.75,210.7 L311.00,210.6 L311.25,210.4 L311.50,210.3 L311.75,210.1 L312.00,210.0 L312.25,209.9 L312.50,209.7 M316.00,207.5 L316.25,207.4 L316.50,207.2 L316.75,207.0 L317.00,206.9 L317.25,206.7 L317.50,206.6 L317.75,206.4 L318.00,206.2 L318.25,206.1 L318.50,205.9 L318.75,205.8 L319.00,205.6 L319.25,205.5 L319.50,205.3 L319.75,205.2 L320.00,205.0 L320.25,204.8 L320.50,204.7 L320.75,204.5 L321.00,204.4 L321.25,204.2 L321.50,204.1 L321.75,204.0 L322.00,203.9 L322.25,203.8 L322.50,203.7 L322.75,203.6 L323.00,203.6 L323.25,203.6 L323.50,203.6 L323.75,203.6 L324.00,203.7 L324.25,203.8 L324.50,204.0 L324.75,204.2 L325.00,204.5 L325.25,204.8 L325.50,205.1 L325.75,205.5 L326.00,205.9 L326.25,206.2 L326.50,206.6 L326.75,207.0 L327.00,207.4 L327.25,207.8 L327.50,208.1 L327.75,208.4 L328.00,208.7 L328.25,209.0 L328.50,209.2 L328.75,209.5 L329.00,209.8 L329.25,210.1 L329.50,210.4 L329.75,210.6 L330.00,210.9 L330.25,211.2 L330.50,211.4 L330.75,211.7 L331.00,211.9 L331.25,212.1 L331.50,212.3 L331.75,212.5 L332.00,212.6 L332.25,212.8 L332.50,212.9 L332.75,213.0 L333.00,213.0 L333.25,213.0 L333.50,213.0 L333.75,213.0 L334.00,213.0 L334.25,213.0 L334.50,212.9 L334.75,212.8 L335.00,212.8 M341.00,209.3 L341.25,209.1 L341.50,208.9 L341.75,208.7 L342.00,208.5 L342.25,208.3 L342.50,208.1 L342.75,207.9 L343.00,207.6 L343.25,207.4 L343.50,207.2 L343.75,207.0 L344.00,206.8 L344.25,206.7 L344.50,206.5 L344.75,206.3 L345.00,206.2 L345.25,206.0 L345.50,205.9 L345.75,205.8 L346.00,205.7 L346.25,205.6 L346.50,205.6 L346.75,205.5 L347.00,205.5 L347.25,205.4 L347.50,205.4 L347.75,205.4 L348.00,205.4 L348.25,205.4 L348.50,205.4 L348.75,205.4 L349.00,205.5 L349.25,205.5 L349.50,205.5 L349.75,205.6 L350.00,205.6 L350.25,205.6 L350.50,205.7 L350.75,205.7 L351.00,205.8 L351.25,205.8 L351.50,205.9 L351.75,205.9 L352.00,206.0 L352.25,206.1 L352.50,206.1 M355.00,206.7 L355.25,206.8 L355.50,206.9 L355.75,206.9 L356.00,207.0 L356.25,207.1 L356.50,207.2 L356.75,207.3 L357.00,207.5 L357.25,207.6 L357.50,207.7 L357.75,207.9 L358.00,208.0 L358.25,208.2 L358.50,208.3 L358.75,208.5 L359.00,208.8 L359.25,209.0 L359.50,209.2 L359.75,209.5 L360.00,209.8 L360.25,210.0 L360.50,210.3 L360.75,210.6 L361.00,210.9 L361.25,211.2 L361.50,211.5 L361.75,211.8 L362.00,212.1 L362.25,212.4 L362.50,212.7 L362.75,212.9 L363.00,213.2 L363.25,213.5 L363.50,213.7 L363.75,214.0 L364.00,214.2 L364.25,214.4 L364.50,214.6 L364.75,214.8 L365.00,215.0 L365.25,215.2 L365.50,215.3 L365.75,215.5 L366.00,215.6 L366.25,215.8 L366.50,215.9 L366.75,216.1 L367.00,216.3 L367.25,216.4 L367.50,216.6 M372.50,219.6 L372.75,219.7 L373.00,219.9 L373.25,220.0 L373.50,220.2 L373.75,220.3 L374.00,220.4 L374.25,220.6 L374.50,220.7 L374.75,220.9 L375.00,221.0 L375.25,221.1 L375.50,221.3 L375.75,221.4 L376.00,221.6 L376.25,221.7 L376.50,221.8 L376.75,222.0 L377.00,222.1 L377.25,222.2 L377.50,222.4 L377.75,222.5 L378.00,222.7 L378.25,222.8 L378.50,222.9 L378.75,223.1 L379.00,223.2 L379.25,223.3 L379.50,223.5 L379.75,223.6 L380.00,223.8 L380.25,223.9 L380.50,224.0 L380.75,224.2 L381.00,224.3 L381.25,224.4 L381.50,224.6 L381.75,224.7 L382.00,224.8 L382.25,225.0 L382.50,225.1 L382.75,225.3 L383.00,225.4 L383.25,225.5 L383.50,225.7 L383.75,225.8 L384.00,225.9 L384.25,226.1 L384.50,226.2 L384.75,226.3 L385.00,226.5 L385.25,226.6 L385.50,226.7 L385.75,226.8 L386.00,227.0 L386.25,227.1 L386.50,227.2 L386.75,227.4 L387.00,227.5 L387.25,227.6 L387.50,227.8 L387.75,227.9 L388.00,228.0 L388.25,228.1 L388.50,228.2 L388.75,228.4 L389.00,228.5 L389.25,228.6 L389.50,228.7 L389.75,228.8 L390.00,228.9 L390.25,229.0 L390.50,229.1 L390.75,229.2 L391.00,229.3 L391.25,229.4 L391.50,229.5 L391.75,229.6 L392.00,229.7 L392.25,229.8 L392.50,229.9 L392.75,230.0 L393.00,230.1 L393.25,230.2 L393.50,230.3 L393.75,230.4 L394.00,230.5 L394.25,230.6 L394.50,230.7 L394.75,230.8 L395.00,230.9 M400.00,232.4 L400.25,232.4 L400.50,232.4 L400.75,232.4 L401.00,232.5 L401.25,232.5 L401.50,232.5 L401.75,232.5 L402.00,232.5 L402.25,232.5 L402.50,232.4 L402.75,232.2 L403.00,231.9 L403.25,231.5 L403.50,230.9 L403.75,230.3 L404.00,229.5 L404.25,228.6 L404.50,227.5 L404.75,226.1 L405.00,224.5 L405.25,222.7 L405.50,220.8 L405.75,219.0 L406.00,217.5 L406.25,216.1 M407.50,209.8 L407.75,208.6 L408.00,207.5 L408.25,206.4 L408.50,205.4 L408.75,204.4 L409.00,203.5 L409.25,202.7 L409.50,202.0 L409.75,201.4 L410.00,201.0 L410.25,200.7 L410.50,200.6 L410.75,200.7 L411.00,201.0 L411.25,201.3 L411.50,201.8 L411.75,202.4 L412.00,203.0 L412.25,203.8 L412.50,204.7 L412.75,205.7 L413.00,206.7 L413.25,207.7 L413.50,208.6 L413.75,209.4 L414.00,210.0 M415.00,211.8 L415.25,212.2 L415.50,212.5 L415.75,212.9 L416.00,213.2 L416.25,213.4 L416.50,213.7 L416.75,213.8 L417.00,214.0 L417.25,214.1 L417.50,214.2 L417.75,214.3 L418.00,214.4 L418.25,214.5 L418.50,214.5 L418.75,214.6 L419.00,214.7 L419.25,214.7 L419.50,214.8 L419.75,214.9 L420.00,215.0 L420.25,215.1 L420.50,215.2 L420.75,215.3 L421.00,215.5 L421.25,215.7 L421.50,215.9 L421.75,216.1 L422.00,216.3 L422.25,216.5 L422.50,216.8 L422.75,217.0 L423.00,217.2 L423.25,217.5 L423.50,217.7 L423.75,217.9 L424.00,218.1 L424.25,218.3 L424.50,218.4 L424.75,218.6 L425.00,218.7 M430.00,220.7 L430.25,220.8 L430.50,220.9 L430.75,221.0 L431.00,221.1 L431.25,221.2 L431.50,221.3 L431.75,221.5 L432.00,221.6 L432.25,221.7 L432.50,221.8 L432.75,221.9 L433.00,222.0 L433.25,222.1 L433.50,222.2 L433.75,222.4 L434.00,222.5 L434.25,222.6 L434.50,222.7 L434.75,222.8 L435.00,222.9 L435.25,223.0 L435.50,223.1 L435.75,223.2 L436.00,223.3 L436.25,223.4 L436.50,223.5 L436.75,223.6 L437.00,223.7 L437.25,223.8 L437.50,223.8 L437.75,223.8 L438.00,223.8 L438.25,223.8 L438.50,223.8 L438.75,223.7 L439.00,223.6 L439.25,223.5 L439.50,223.4 L439.75,223.3 L440.00,223.1 L440.25,223.0 L440.50,222.8 L440.75,222.7 L441.00,222.6 L441.25,222.4 L441.50,222.3 L441.75,222.1 L442.00,222.0 L442.25,221.9 L442.50,221.7 L442.75,221.5 L443.00,221.3 L443.25,221.1 L443.50,220.9 L443.75,220.7 L444.00,220.4 M449.00,218.9 L449.25,219.0 L449.50,219.0 L449.75,219.1 L450.00,219.1 L450.25,219.2 L450.50,219.2 L450.75,219.3 L451.00,219.3 L451.25,219.4 L451.50,219.4 L451.75,219.5 L452.00,219.5 L452.25,219.5 L452.50,219.6 L452.75,219.7 L453.00,219.7 L453.25,219.8 L453.50,219.8 L453.75,219.9 L454.00,219.9 L454.25,220.0 L454.50,220.0 L454.75,220.1 L455.00,220.1 L455.25,220.2 L455.50,220.2 L455.75,220.3 L456.00,220.3 L456.25,220.4 L456.50,220.4 L456.75,220.5 L457.00,220.5 L457.25,220.6 L457.50,220.6 L457.75,220.7 L458.00,220.7 L458.25,220.7 L458.50,220.8 L458.75,220.8 L459.00,220.8 L459.25,220.8 L459.50,220.9 L459.75,220.9 L460.00,220.9 L460.25,220.9 L460.50,220.9 L460.75,220.9 L461.00,220.9 L461.25,220.9 L461.50,220.9 L461.75,220.9 L462.00,221.0 L462.25,221.0 L462.50,221.0 L462.75,221.0 L463.00,221.0 L463.25,221.0 L463.50,221.0 L463.75,221.0 L464.00,221.0 M466.00,221.0 L466.25,221.0 L466.50,221.0 L466.75,221.0 L467.00,221.0 L467.25,221.0 L467.50,221.0 L467.75,221.0 L468.00,221.0 L468.25,221.1 L468.50,221.2 L468.75,221.4 L469.00,221.6 L469.25,221.9 L469.50,222.2 L469.75,222.6 L470.00,223.0 L470.25,223.4 L470.50,223.9 L470.75,224.3 L471.00,224.8 L471.25,225.2 L471.50,225.7 L471.75,226.1 L472.00,226.6 L472.25,227.0 L472.50,227.5 L472.75,228.0 L473.00,228.5 L473.25,228.9 L473.50,229.4 L473.75,229.9 L474.00,230.4 L474.25,230.9 L474.50,231.4 L474.75,231.8 L475.00,232.3 L475.25,232.7 L475.50,233.2 L475.75,233.6 L476.00,234.0 L476.25,234.3 L476.50,234.7 L476.75,235.0 L477.00,235.3 L477.25,235.6 L477.50,235.9 L477.75,236.2 L478.00,236.5 L478.25,236.8 L478.50,237.0 L478.75,237.3 L479.00,237.6 M484.00,241.6 L484.25,241.8 L484.50,241.9 L484.75,242.1 L485.00,242.2 L485.25,242.4 L485.50,242.5 L485.75,242.7 L486.00,242.8 L486.25,243.0 L486.50,243.1 L486.75,243.2 L487.00,243.4 L487.25,243.5 L487.50,243.7 L487.75,243.8 L488.00,243.9 L488.25,244.1 L488.50,244.2 L488.75,244.3 L489.00,244.5 L489.25,244.6 L489.50,244.7 L489.75,244.9 L490.00,245.0 L490.25,245.1 L490.50,245.3 L490.75,245.4 L491.00,245.5 L491.25,245.6 L491.50,245.8 L491.75,245.9 L492.00,246.0 L492.25,246.1 L492.50,246.3 L492.75,246.4 L493.00,246.5 L493.25,246.6 L493.50,246.8 L493.75,246.9 L494.00,247.0 L494.25,247.1 L494.50,247.2 L494.75,247.4 L495.00,247.5 L495.25,247.6 L495.50,247.7 L495.75,247.8 L496.00,247.9 L496.25,248.0 L496.50,248.1 L496.75,248.2 L497.00,248.3 L497.25,248.4 L497.50,248.5 L497.75,248.6 L498.00,248.7 L498.25,248.8 L498.50,248.9 L498.75,248.9 L499.00,249.0 L499.25,249.1 L499.50,249.2 L499.75,249.2 L500.00,249.3 L500.25,249.3 L500.50,249.4 L500.75,249.4 L501.00,249.5 L501.25,249.5 L501.50,249.6 L501.75,249.6 L502.00,249.6 L502.25,249.7 L502.50,249.7 L502.75,249.7 L503.00,249.8 L503.25,249.8 L503.50,249.8 L503.75,249.8 L504.00,249.9 L504.25,249.9 L504.50,249.9 L504.75,250.0 L505.00,250.0 L505.25,250.0 L505.50,250.1 L505.75,250.1 L506.00,250.1 L506.25,250.1 L506.50,250.2 L506.75,250.2 L507.00,250.2 L507.25,250.2 L507.50,250.2 L507.75,250.2 L508.00,250.2 L508.25,250.2 L508.50,250.2 L508.75,250.2 L509.00,250.2 L509.25,250.2 L509.50,250.2 L509.75,250.2 L510.00,250.2 M519.00,247.0 L519.25,247.0 L519.50,247.1 L519.75,247.2 L520.00,247.2 L520.25,247.3 L520.50,247.3 L520.75,247.4 L521.00,247.5 L521.25,247.5 L521.50,247.5 L521.75,247.5 L522.00,247.5 L522.25,247.5 L522.50,247.4 L522.75,247.3 L523.00,247.2 L523.25,247.1 L523.50,247.0 L523.75,246.9 L524.00,246.8 L524.25,246.6 L524.50,246.5 L524.75,246.4 L525.00,246.2 L525.25,246.1 L525.50,246.0 L525.75,245.9 L526.00,245.8 L526.25,245.7 L526.50,245.6 L526.75,245.5 L527.00,245.5 L527.25,245.4 L527.50,245.4 L527.75,245.5 L528.00,245.5 L528.25,245.6 L528.50,245.6 L528.75,245.7 L529.00,245.7 L529.25,245.8 L529.50,245.9 L529.75,246.0 L530.00,246.0 L530.25,246.1 L530.50,246.2 L530.75,246.3 L531.00,246.3 L531.25,246.4 L531.50,246.5 L531.75,246.6 L532.00,246.7 L532.25,246.7 L532.50,246.8 M539.00,249.2 L539.25,249.3 L539.50,249.4 L539.75,249.4 L540.00,249.5 L540.25,249.6 L540.50,249.6 L540.75,249.6 L541.00,249.7 L541.25,249.7 L541.50,249.7 L541.75,249.7 L542.00,249.7 L542.25,249.7 L542.50,249.7 L542.75,249.7 L543.00,249.7 L543.25,249.6 L543.50,249.6 L543.75,249.6 L544.00,249.5 L544.25,249.5 L544.50,249.5 L544.75,249.4 L545.00,249.4 L545.25,249.4 L545.50,249.3 L545.75,249.3 L546.00,249.3 L546.25,249.3 L546.50,249.2 L546.75,249.2 L547.00,249.2 L547.25,249.2 L547.50,249.2 L547.75,249.2 L548.00,249.2 L548.25,249.2 L548.50,249.2 L548.75,249.3 L549.00,249.3 L549.25,249.3 L549.50,249.3 L549.75,249.3 L550.00,249.4 L550.25,249.4 L550.50,249.4 L550.75,249.5 L551.00,249.5 L551.25,249.5 L551.50,249.6 L551.75,249.6 L552.00,249.6 L552.25,249.7 L552.50,249.7 L552.75,249.8 L553.00,249.8 L553.25,249.8 L553.50,249.9 L553.75,249.9 M558.50,251.7 L558.75,251.9 L559.00,252.1 L559.25,252.3 L559.50,252.5 L559.75,252.7 L560.00,252.9 L560.25,253.2 L560.50,253.4 L560.75,253.6 L561.00,253.9 L561.25,254.1 L561.50,254.4 L561.75,254.6 L562.00,254.9 L562.25,255.2 L562.50,255.4 L562.75,255.7 L563.00,256.0 L563.25,256.3 L563.50,256.5 L563.75,256.8 L564.00,257.1 L564.25,257.4 L564.50,257.6 L564.75,257.9 L565.00,258.2 L565.25,258.4 L565.50,258.7 L565.75,259.0 L566.00,259.3 L566.25,259.6 L566.50,259.9 L566.75,260.1 L567.00,260.4 L567.25,260.7 L567.50,261.0 L567.75,261.3 L568.00,261.6 L568.25,262.0 L568.50,262.3 L568.75,262.6 L569.00,263.0 L569.25,263.3 M571.50,267.3 L571.75,267.7 L572.00,268.1 L572.25,268.5 L572.50,268.9 L572.75,269.3 L573.00,269.6 L573.25,270.0 L573.50,270.3 L573.75,270.7 L574.00,271.0 L574.25,271.3 L574.50,271.6 L574.75,271.9 L575.00,272.2 L575.25,272.5 L575.50,272.8 L575.75,273.1 L576.00,273.3 L576.25,273.6 L576.50,273.8 L576.75,274.0 L577.00,274.2 L577.25,274.4 L577.50,274.5 L577.75,274.6 L578.00,274.7 L578.25,274.7 L578.50,274.8 L578.75,274.7 L579.00,274.7 L579.25,274.7 L579.50,274.6"/>
<path class="c" stroke-dasharray="2 2" d="M3.0,147.5 L3.5,147.5 L4.0,147.5 L4.5,147.5 L5.0,147.5 L5.5,147.5 L6.0,147.5 L6.5,147.5 L7.0,147.5 L7.5,147.5 L8.0,147.5 L8.5,147.5 L9.0,147.5 L9.5,147.5 L10.0,147.5 L10.5,147.6 L11.0,147.6 L11.5,147.6 L12.0,147.6 L12.5,147.5 L13.0,147.4 L13.5,147.4 L14.0,147.6 L14.5,147.4 L15.0,147.5 L15.5,148.0 L16.0,147.6 L16.5,147.7 L17.0,147.2 L17.5,146.9 L18.0,147.3 L18.5,146.9 L19.0,147.6 L19.5,148.6 L20.0,148.0 L20.5,146.8 L21.0,148.6 L21.5,148.4 L22.0,148.3 L22.5,148.7 L23.0,148.3 L23.5,148.4 L24.0,147.2 L24.5,149.0 L25.0,148.9 L25.5,146.7 L26.0,148.3 L26.5,148.2 L27.0,147.5 L27.5,147.7 L28.0,147.6 L28.5,148.8 L29.0,147.6 L29.5,148.5 L30.0,147.2 L30.5,148.7 L31.0,148.7 L31.5,147.5 L32.0,147.8 L32.5,148.8 L33.0,148.2 L33.5,147.6 L34.0,146.8 L34.5,147.1 L35.0,148.2 L35.5,146.7 L36.0,148.7 L36.5,147.0 L37.0,148.8 L37.5,147.1 L38.0,148.9 L38.5,148.1 L39.0,147.5 L39.5,147.5 L40.0,147.8 L40.5,147.6 L41.0,146.7 L41.5,146.3 L42.0,147.0 L42.5,148.0 L43.0,147.0 L43.5,145.3 L44.0,147.3 L44.5,146.8 L45.0,147.2 L45.5,145.0 L46.0,146.4 L46.5,144.2 L47.0,145.7 L47.5,144.4 L48.0,144.1 L48.5,145.7 L49.0,143.4 L49.5,144.3 L50.0,145.1 L50.5,143.1 L51.0,142.8 L51.5,144.5 L52.0,143.0 L52.5,143.7 L53.0,141.6 L53.5,142.3 L54.0,141.6 L54.5,142.8 L55.0,141.0 L55.5,143.2 L56.0,140.5 L56.5,142.3 L57.0,140.2 L57.5,140.7 L58.0,142.1 L58.5,140.1 L59.0,140.0 L59.5,141.3 L60.0,140.3 L60.5,139.2 L61.0,141.7 L61.5,139.2 L62.0,138.8 L62.5,139.5 L63.0,140.1 L63.5,140.3 L64.0,138.4 L64.5,138.9 L65.0,137.9 L65.5,138.9 L66.0,139.7 L66.5,139.5 L67.0,139.8 L67.5,139.2 L68.0,139.4 L68.5,138.8 L69.0,138.0 L69.5,137.1 L70.0,138.2 L70.5,137.1 L71.0,136.3 L71.5,137.1 L72.0,138.1 L72.5,135.8 L73.0,136.9 L73.5,136.2 L74.0,136.4 L74.5,135.1 L75.0,137.2 L75.5,135.0 L76.0,135.8 L76.5,135.1 L77.0,133.7 L77.5,135.0 L78.0,133.6 L78.5,133.2 L79.0,133.0 L79.5,133.1 L80.0,132.8 L80.5,133.8 L81.0,133.3 L81.5,134.0 L82.0,133.6 L82.5,133.4 L83.0,131.8 L83.5,131.9 L84.0,131.4 L84.5,131.7 L85.0,131.4 L85.5,131.4 L86.0,131.0 L86.5,130.3 L87.0,130.2 L87.5,130.1 L88.0,129.6 L88.5,129.4 L89.0,129.3 L89.5,129.0 L90.0,128.8 L91.0,128.2 L92.0,127.7 L93.0,127.1 L94.0,126.6 L95.0,126.0 L96.0,125.4 L97.0,124.8 L98.0,124.3 L99.0,123.7 L100.0,123.1 L101.0,122.6 L102.0,122.1 L103.0,121.5 L104.0,121.0 L105.0,120.6 L106.0,120.1 L107.0,119.7 L108.0,119.3 L109.0,118.9 L110.0,118.6 L111.0,118.3 L112.0,118.0 L113.0,117.7 L114.0,117.5 L115.0,117.3 L116.0,117.1 L117.0,116.9 L118.0,116.8 L119.0,116.7 L120.0,116.5 L121.0,116.4 L122.0,116.3 L123.0,116.2 L124.0,116.1 L125.0,116.1 L126.0,116.0 L127.0,115.9 L128.0,115.9 L129.0,115.8 L130.0,115.8 L131.0,115.8 L132.0,115.7 L133.0,115.7 L134.0,115.7 L135.0,115.7 L136.0,115.7 L137.0,115.7 L138.0,115.7 L139.0,115.8 L140.0,115.8 L141.0,115.9 L142.0,115.9 L143.0,116.0 L144.0,116.1 L145.0,116.2 L146.0,116.4 L147.0,116.5 L148.0,116.7 L149.0,116.9 L150.0,117.1 L151.0,117.4 L152.0,117.6 L153.0,117.9 L154.0,118.2 L155.0,118.5 L156.0,118.9 L157.0,119.4 L158.0,119.9 L159.0,120.3 L160.0,120.7 L161.0,121.0 L162.0,121.3 L163.0,121.6 L164.0,121.9 L165.0,122.2 L166.0,122.5 L167.0,122.8 L168.0,123.1 L169.0,123.4 L170.0,123.7 L171.0,124.0 L172.0,124.3 L173.0,124.6 L174.0,124.9 L175.0,125.3 L176.0,125.6 L177.0,125.9 L178.0,126.2 L179.0,126.5 L180.0,126.7 L181.0,125.9 L182.0,124.2 L183.0,122.0 L184.0,120.0 L185.0,118.5 L186.0,117.8 L187.0,117.3 L188.0,116.4 L189.0,114.2 L190.0,111.5 L191.0,109.3 L192.0,108.6 L193.0,110.4 L194.0,113.8 L195.0,117.3 L196.0,119.5 L197.0,120.4 L198.0,120.9 L199.0,120.9 L200.0,120.0 L201.0,118.9 L202.0,118.3 L203.0,118.8 L204.0,120.2 L205.0,122.1 L206.0,124.1 L207.0,125.9 L208.0,127.0 L209.0,127.7 L210.0,128.3 L211.0,128.9 L212.0,129.5 L213.0,130.1 L214.0,130.6 L215.0,131.0 L216.0,131.4 L217.0,131.8 L218.0,132.1 L219.0,132.5 L220.0,132.9 L221.0,133.2 L222.0,133.5 L223.0,133.9 L224.0,134.2 L225.0,134.5 L226.0,134.8 L227.0,135.1 L228.0,135.3 L229.0,135.6 L230.0,135.8 L231.0,136.0 L232.0,136.1 L233.0,136.2 L234.0,136.2 L235.0,136.2 L236.0,136.1 L237.0,136.0 L238.0,135.7 L239.0,135.0 L240.0,134.2 L241.0,133.3 L242.0,132.3 L243.0,131.4 L244.0,130.6 L245.0,130.0 L246.0,129.5 L247.0,129.0 L248.0,128.6 L249.0,128.1 L250.0,127.7 L251.0,127.4 L252.0,127.1 L253.0,126.8 L254.0,126.7 L255.0,126.7 L256.0,126.7 L257.0,126.8 L258.0,126.9 L259.0,126.9 L260.0,127.0 L261.0,127.1 L262.0,127.2 L263.0,127.3 L264.0,127.4 L265.0,127.5 L266.0,127.6 L267.0,127.7 L268.0,127.8 L269.0,127.9 L270.0,128.0 L271.0,128.1 L272.0,128.3 L273.0,128.4 L274.0,128.5 L275.0,128.7 L276.0,128.9 L277.0,129.1 L278.0,129.4 L279.0,129.8 L280.0,130.1 L281.0,130.5 L282.0,130.9 L283.0,131.3 L284.0,131.7 L285.0,132.1 L286.0,132.5 L287.0,133.0 L288.0,133.7 L289.0,134.5 L290.0,135.4 L291.0,136.2 L292.0,136.9 L293.0,137.3 L294.0,137.3 L295.0,137.0 L296.0,136.2 L297.0,135.1 L298.0,133.9 L299.0,132.5 L300.0,131.1 L301.0,129.9 L302.0,128.6 L303.0,127.2 L304.0,125.9 L305.0,124.6 L306.0,123.3 L307.0,122.1 L308.0,121.0 L309.0,120.0 L310.0,119.1 L311.0,118.2 L312.0,117.4 L313.0,116.7 L314.0,115.9 L315.0,115.2 L316.0,114.5 L317.0,113.8 L318.0,113.0 L319.0,112.3 L320.0,111.5 L321.0,110.6 L322.0,109.6 L323.0,108.7 L324.0,108.0 L325.0,108.9 L326.0,111.4 L327.0,113.7 L328.0,115.3 L329.0,116.9 L330.0,118.4 L331.0,119.7 L332.0,120.7 L333.0,121.3 L334.0,121.5 L335.0,121.5 L336.0,121.2 L337.0,120.7 L338.0,120.0 L339.0,119.3 L340.0,118.5 L341.0,117.7 L342.0,116.9 L343.0,116.0 L344.0,115.0 L345.0,113.8 L346.0,112.6 L347.0,111.6 L348.0,111.0 L349.0,111.0 L350.0,111.3 L351.0,111.9 L352.0,112.6 L353.0,113.0 L354.0,113.2 L355.0,113.2 L356.0,113.3 L357.0,113.5 L358.0,114.0 L359.0,115.0 L360.0,116.4 L361.0,118.0 L362.0,119.7 L363.0,121.0 L364.0,122.1 L365.0,123.3 L366.0,124.4 L367.0,125.6 L368.0,126.7 L369.0,127.7 L370.0,128.7 L371.0,129.6 L372.0,130.6 L373.0,131.5 L374.0,132.4 L375.0,133.3 L376.0,134.2 L377.0,135.1 L378.0,136.0 L379.0,137.0 L380.0,138.0 L381.0,139.0 L382.0,140.1 L383.0,141.1 L384.0,142.2 L385.0,143.2 L386.0,144.1 L387.0,145.0 L388.0,145.8 L389.0,146.4 L390.0,147.0 L391.0,147.4 L392.0,147.8 L393.0,148.2 L394.0,148.6 L395.0,149.0 L396.0,149.4 L397.0,149.7 L398.0,150.0 L399.0,150.3 L400.0,150.5 L401.0,150.8 L402.0,151.0 L403.0,151.5 L404.0,151.8 L405.0,151.0 L406.0,148.0 L407.0,142.9 L408.0,137.5 L409.0,132.4 L410.0,127.5 L411.0,123.9 L412.0,123.7 L413.0,126.8 L414.0,131.0 L415.0,137.1 L416.0,141.0 L417.0,140.8 L418.0,140.2 L419.0,139.5 L420.0,138.7 L421.0,138.0 L422.0,137.2 L423.0,136.5 L424.0,135.7 L425.0,135.0 L426.0,134.3 L427.0,133.6 L428.0,132.9 L429.0,132.3 L430.0,131.6 L431.0,131.0 L432.0,130.9 L433.0,131.9 L434.0,133.7 L435.0,136.4 L436.0,139.6 L437.0,142.5 L438.0,145.0 L439.0,147.3 L440.0,149.4 L441.0,151.0 L442.0,151.9 L443.0,151.8 L444.0,150.7 L445.0,148.7 L446.0,145.9 L447.0,142.7 L448.0,140.0 L449.0,137.8 L450.0,135.7 L451.0,133.6 L452.0,131.4 L453.0,129.1 L454.0,126.8 L455.0,124.7 L456.0,123.8 L457.0,125.4 L458.0,128.0 L459.0,130.4 L460.0,133.2 L461.0,136.1 L462.0,138.7 L463.0,140.5 L464.0,141.7 L465.0,142.8 L466.0,144.0 L467.0,145.2 L468.0,146.4 L469.0,147.7 L470.0,149.2 L471.0,150.8 L472.0,152.5 L473.0,154.1 L474.0,155.8 L475.0,157.5 L476.0,159.3 L477.0,161.2 L478.0,163.0 L479.0,164.9 L480.0,166.7 L481.0,168.4 L482.0,168.0 L483.0,164.9 L484.0,161.3 L485.0,158.9 L486.0,156.8 L487.0,154.8 L488.0,153.3 L489.0,152.9 L490.0,154.3 L491.0,156.5 L492.0,159.0 L493.0,162.0 L494.0,165.0 L495.0,167.5 L496.0,168.9 L497.0,169.1 L498.0,168.7 L499.0,165.3 L500.0,160.6 L501.0,161.3 L502.0,166.8 L503.0,171.0 L504.0,172.5 L505.0,173.9 L506.0,175.1 L507.0,176.0 L508.0,176.8 L509.0,177.6 L510.0,178.4 L511.0,179.1 L512.0,179.6 L513.0,180.0 L514.0,180.2 L515.0,180.3 L516.0,180.5 L517.0,180.6 L518.0,180.7 L519.0,180.8 L520.0,181.0 L521.0,181.2 L522.0,181.4 L523.0,181.7 L524.0,181.9 L525.0,182.1 L526.0,182.4 L527.0,182.7 L528.0,183.0 L529.0,183.3 L530.0,183.7 L531.0,184.1 L532.0,184.6 L533.0,185.1 L534.0,185.6 L535.0,186.1 L536.0,186.7 L537.0,187.2 L538.0,187.7 L539.0,188.2 L540.0,188.7 L541.0,189.1 L542.0,189.5 L543.0,189.9 L544.0,190.3 L545.0,190.7 L546.0,191.1 L547.0,191.5 L548.0,192.0 L549.0,192.6 L550.0,193.3 L551.0,194.1 L552.0,194.9 L553.0,195.8 L554.0,196.6 L555.0,197.5 L556.0,198.4 L557.0,199.3 L558.0,200.2 L559.0,201.3 L560.0,202.5 L561.0,204.0 L562.0,206.1 L563.0,208.4 L564.0,211.0 L565.0,213.7 L566.0,216.5 L567.0,219.4 L568.0,222.6 L569.0,226.1 L570.0,229.6 L571.0,232.8 L572.0,236.0 L573.0,239.0 L574.0,241.9 L575.0,244.7 L576.0,247.4 L577.0,249.9 L578.0,252.4 L579.0,254.8 L580.0,257.0"/>
<g stroke="#000" stroke-width="2.2" fill="none">
<path d="M3,324.9 H584.5"/>
<path d="M580.0,4.8 V329.4"/>
<path d="M55.9,324.8 v4.6 M143.2,324.8 v4.6 M230.5,324.8 v4.6 M317.8,324.8 v4.6 M405.2,324.8 v4.6 M492.5,324.8 v4.6"/>
<path d="M580.0,5.9 h4.1 M580.0,69.6 h4.1 M580.0,133.4 h4.1 M580.0,197.2 h4.1 M580.0,261 h4.1"/>
</g>
<text class="t" transform="translate(55.7,347.2) scale(1.075,1)" text-anchor="middle">3700</text>
<text class="t" transform="translate(143.0,347.2) scale(1.075,1)" text-anchor="middle">3200</text>
<text class="t" transform="translate(230.5,347.2) scale(1.075,1)" text-anchor="middle">2700</text>
<text class="t" transform="translate(317.90000000000003,347.2) scale(1.075,1)" text-anchor="middle">2200</text>
<text class="t" transform="translate(405.3,347.2) scale(1.075,1)" text-anchor="middle">1700</text>
<text class="t" transform="translate(492.6,347.2) scale(1.075,1)" text-anchor="middle">1200</text>
<text class="t" transform="translate(580.4,347.2) scale(1.075,1)" text-anchor="middle">700</text>
<text class="t" transform="translate(593.2,11.7) scale(1.08,1)" text-anchor="start">0.25</text>
<text class="t" transform="translate(593.2,75.5) scale(1.08,1)" text-anchor="start">0.2</text>
<text class="t" transform="translate(593.2,139.3) scale(1.08,1)" text-anchor="start">0.15</text>
<text class="t" transform="translate(593.2,203.1) scale(1.08,1)" text-anchor="start">0.1</text>
<text class="t" transform="translate(593.2,266.9) scale(1.08,1)" text-anchor="start">0.05</text>
<text class="t" transform="translate(593.2,330.7) scale(1.08,1)" text-anchor="start">0</text>
<text class="b" transform="translate(291.9,367.9) scale(1.13,1)" text-anchor="middle">Wavenumber(cm<tspan font-size="9" dy="-5">-1</tspan><tspan dy="5">)</tspan></text>
<text class="b" style="font-size:14.4px" transform="translate(639.7,164.8) scale(1.02,1) rotate(-90)" text-anchor="middle">Absorbance(a.u)</text>
<g stroke="#000" stroke-width="2" fill="none">
<path d="M44.6,13 H84.4"/>
<path d="M44.6,37.5 H84.4" stroke-dasharray="6.4 2.2"/>
<path d="M44.6,62.5 H84.4" stroke-dasharray="16.9 8"/>
<path d="M44.6,88 H84.4" stroke-dasharray="2 2"/>
</g>
<text class="t" transform="translate(88.6,17.2) scale(1.08,1)" text-anchor="start">CuO</text>
<text class="t" transform="translate(88.6,42.6) scale(1.08,1)" text-anchor="start">BA_modified pH5.5 2Hrs</text>
<text class="t" transform="translate(88.6,67.4) scale(1.08,1)" text-anchor="start">BA_modified pH7 2Hrs</text>
<text class="t" transform="translate(88.6,92.4) scale(1.08,1)" text-anchor="start">BA_modified pH7 24Hrs</text>
</svg>
</body></html>
